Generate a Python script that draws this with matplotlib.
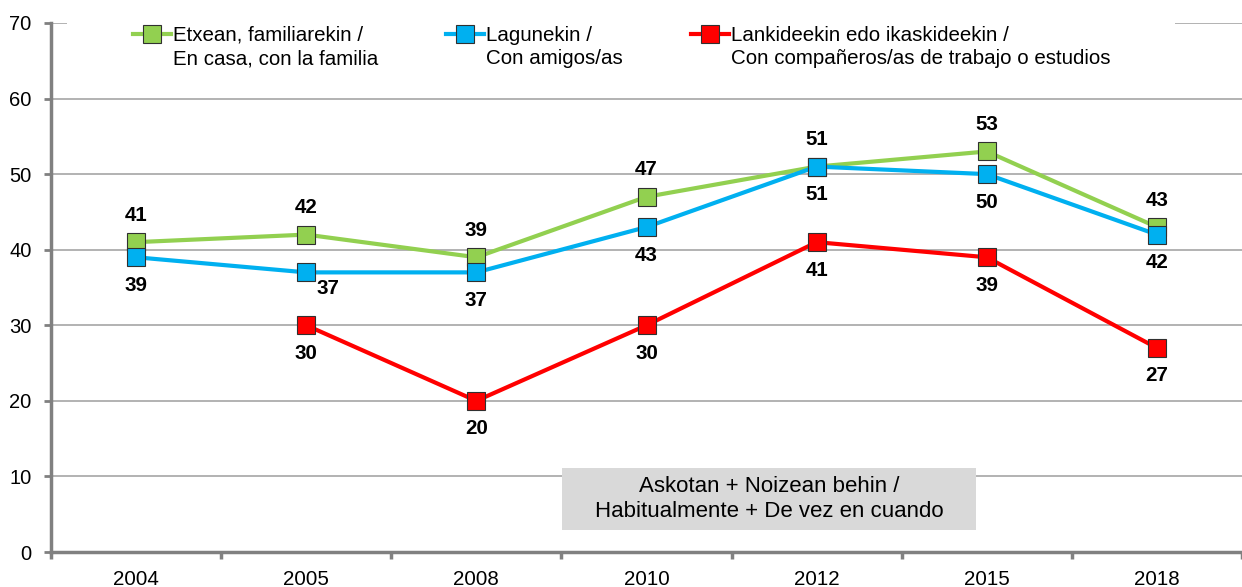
import matplotlib
matplotlib.use('Agg')
import matplotlib.pyplot as plt
import matplotlib.patches as patches
from matplotlib.legend_handler import HandlerLine2D
import numpy as np

years = ['2004', '2005', '2008', '2010', '2012', '2015', '2018']
familia = [41, 42, 39, 47, 51, 53, 43]
amigos = [39, 37, 37, 43, 51, 50, 42]
trabajo = [np.nan, 30, 20, 30, 41, 39, 27]

labels = [
    'Etxean, familiarekin /\nEn casa, con la familia',
    'Lagunekin /\nCon amigos/as',
    'Lankideekin edo ikaskideekin /\nCon compañeros/as de trabajo o estudios',
]
colors = ['#92D050', '#00B0F0', '#FF0000']


class FirstLineHandler(HandlerLine2D):
    # put the legend key next to the first line of a two-line label
    def create_artists(self, legend, orig_handle, xdescent, ydescent,
                       width, height, fontsize, trans):
        arts = super().create_artists(legend, orig_handle, xdescent, ydescent,
                                      width, height, fontsize, trans)
        for a in arts:
            a.set_ydata(np.asarray(a.get_ydata()) + 0.62 * fontsize)
        return arts


plt.rcParams['font.family'] = ['Liberation Sans', 'DejaVu Sans']

fig = plt.figure(figsize=(12.42, 5.87), dpi=100)
ax = fig.add_axes([51 / 1242, 1 - 552 / 587, 1 - 51 / 1242, 529 / 587])

x = np.arange(len(years))
series = [familia, amigos, trabajo]
handles = []
for vals, col, lab in zip(series, colors, labels):
    h, = ax.plot(x, vals, color=col, lw=3, marker='s', ms=12.5, mfc=col,
                 mec='#303030', mew=0.8, label=lab, zorder=3)
    handles.append(h)

# data labels: green above, blue and red below
lab_kw = dict(ha='center', va='center', fontsize=14.8, fontweight='bold',
              color='black', zorder=5)
for i, v in enumerate(familia):
    ax.annotate(str(v), (x[i], v), xytext=(0, 27), textcoords='offset pixels', **lab_kw)
for i, v in enumerate(amigos):
    off = (22, -16) if i == 1 else (0, -28)
    ax.annotate(str(v), (x[i], v), xytext=off, textcoords='offset pixels', **lab_kw)
for i, v in enumerate(trabajo):
    if np.isnan(v):
        continue
    ax.annotate(str(int(v)), (x[i], v), xytext=(0, -28), textcoords='offset pixels', **lab_kw)

ax.set_xlim(-0.5, len(years) - 0.5)
ax.set_ylim(0, 70)
ax.set_yticks(range(0, 71, 10))
ax.set_xticks(np.arange(-0.5, len(years), 1))
ax.set_xticklabels([])
ax.set_xticks(x, minor=True)
ax.set_xticklabels(years, minor=True)
ax.tick_params(axis='x', which='minor', length=0, pad=13, labelsize=14.8)
ax.tick_params(axis='x', which='major', length=5, width=2.5, color='#808080')
ax.tick_params(axis='y', length=5, width=2, color='#808080', labelsize=14.5, pad=9)

ax.grid(axis='y', color='#A6A6A6', lw=1.2, zorder=0)
ax.set_axisbelow(True)
for s in ['top', 'right']:
    ax.spines[s].set_visible(False)
for s in ['left', 'bottom']:
    ax.spines[s].set_color('#808080')
    ax.spines[s].set_linewidth(2.5)
    ax.spines[s].set_zorder(4)

# white band behind the legend hides the top gridline
ax.add_patch(patches.Rectangle((16 / 1191, 0.96), 1108 / 1191, 0.06,
                               transform=ax.transAxes, fc='white', ec='none',
                               zorder=1, clip_on=False))

leg = ax.legend(handles=handles, loc='upper left',
                bbox_to_anchor=(82 / 1191, 0.995), ncol=3, frameon=False,
                fontsize=14.8, handlelength=1.85, handletextpad=0.1,
                columnspacing=3.3, borderpad=0, borderaxespad=0,
                handler_map={matplotlib.lines.Line2D: FirstLineHandler()})
for t in leg.get_texts():
    t.set_linespacing(1.3)
leg.set_zorder(6)

# gray note box
ax.add_patch(patches.Rectangle((511 / 1191, 22 / 529), 414 / 1191, 62 / 529,
                               transform=ax.transAxes, fc='#D9D9D9', ec='none', zorder=2))
ax.text(718 / 1191, 53 / 529, 'Askotan + Noizean behin /\nHabitualmente + De vez en cuando',
        transform=ax.transAxes, ha='center', va='center', fontsize=16, zorder=3,
        linespacing=1.2)

fig.savefig('out.png', dpi=100)
